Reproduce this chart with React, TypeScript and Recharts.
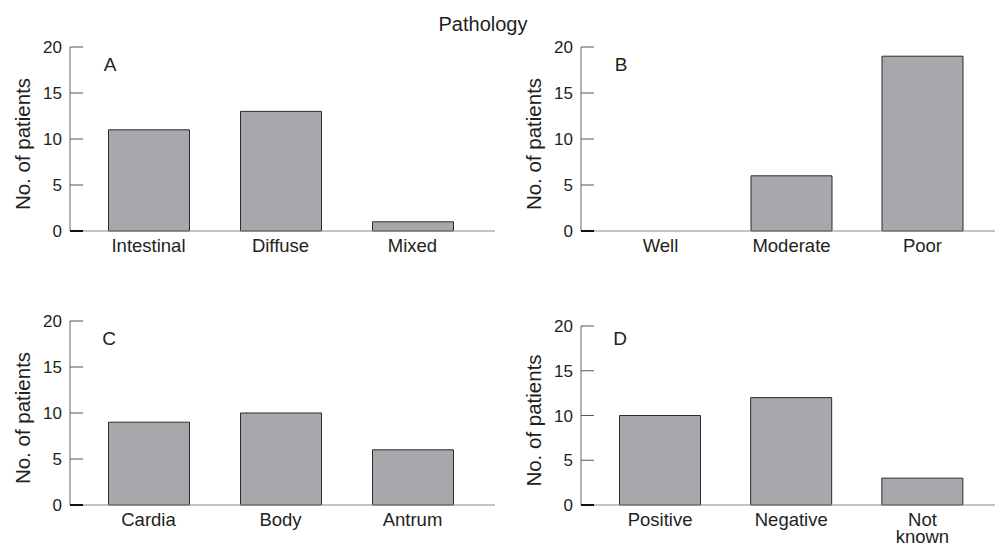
import { BarChart, Bar, XAxis, YAxis } from 'recharts';

const histologyTypes = ['Intestinal', 'Diffuse', 'Mixed'];
const histologyCounts = [11, 13, 1];

const gradeLabels = ['Well', 'Moderate', 'Poor'];
const gradeCounts = [0, 6, 19];

const siteLabels = ['Cardia', 'Body', 'Antrum'];
const siteCounts = [9, 10, 6];

const statusLabels = ['Positive', 'Negative', 'Not\nknown'];
const statusCounts = [10, 12, 3];

const yTicks = [0, 5, 10, 15, 20];

const FONT = '"Liberation Sans", Arial, Helvetica, sans-serif';
const INK = '#231f20';

const YTick = ({ x, y, payload }: any) => {
  const zero = payload.value === 0;
  return (
    <g>
      <line
        x1={x}
        x2={x + 13}
        y1={y}
        y2={y}
        stroke={zero ? '#111' : '#555'}
        strokeWidth={zero ? 2 : 1}
      />
      <text x={x - 8} y={y} dy="0.36em" textAnchor="end" fontSize={17} fontFamily={FONT} fill={INK}>
        {payload.value}
      </text>
    </g>
  );
};

// category labels, "\n" splits into lines
const XTick = ({ x, y, payload }: any) => {
  const lines = String(payload.value).split('\n');
  return (
    <text x={x} y={y + 21} textAnchor="middle" fontSize={18.5} fontFamily={FONT} fill={INK}>
      {lines.map((line, i) => (
        <tspan key={i} x={x} dy={i === 0 ? 0 : 16.5}>
          {line}
        </tspan>
      ))}
    </text>
  );
};

const YLabel = ({ viewBox }: any) => {
  const axisX = viewBox.x + viewBox.width;
  const bx = axisX - 40;
  const cy = viewBox.y + viewBox.height / 2 + 5;
  return (
    <text
      x={bx}
      y={cy}
      transform={`rotate(-90, ${bx}, ${cy})`}
      textAnchor="middle"
      fontSize={20.5}
      fontFamily={FONT}
      fill={INK}
    >
      No. of patients
    </text>
  );
};

interface PanelProps {
  labels: string[];
  counts: number[];
  left: number;
  top: number;
  width: number;
  height: number;
  marginTop: number;
  marginRight: number;
  yWidth: number;
  padLeft: number;
  padRight: number;
}

function Panel({ labels, counts, left, top, width, height, marginTop, marginRight, yWidth, padLeft, padRight }: PanelProps) {
  const data = labels.map((name, i) => ({ name, value: counts[i] }));
  return (
    <div style={{ position: 'absolute', left, top }}>
      <BarChart width={width} height={height} data={data} margin={{ top: marginTop, right: marginRight, bottom: 9, left: 0 }}>
        <XAxis
          dataKey="name"
          type="category"
          height={30}
          padding={{ left: padLeft, right: padRight }}
          axisLine={{ stroke: '#8a8a8a', strokeWidth: 1.2 }}
          tickLine={false}
          tickSize={0}
          tickMargin={0}
          interval={0}
          tick={<XTick />}
        />
        <YAxis
          width={yWidth}
          domain={[0, 20]}
          ticks={yTicks}
          interval={0}
          axisLine={{ stroke: '#666' }}
          tickLine={false}
          tickSize={0}
          tickMargin={0}
          tick={<YTick />}
          label={<YLabel />}
        />
        <Bar dataKey="value" barSize={81} fill="#a7a8ab" stroke="#2b2b2b" strokeWidth={1} isAnimationActive={false} />
      </BarChart>
    </div>
  );
}

export default function App() {
  return (
    <div style={{ position: 'absolute', left: 0, top: 0, width: 996, height: 544, background: '#fff', fontFamily: FONT }}>
      <Panel labels={histologyTypes} counts={histologyCounts} left={0} top={0} width={500} height={270}
        marginTop={47} marginRight={5} yWidth={70} padLeft={12.5} padRight={16.5} />
      <Panel labels={gradeLabels} counts={gradeCounts} left={500} top={0} width={496} height={270}
        marginTop={47} marginRight={1} yWidth={81} padLeft={14} padRight={7} />
      <Panel labels={siteLabels} counts={siteCounts} left={0} top={270} width={500} height={274}
        marginTop={51} marginRight={5} yWidth={70} padLeft={12.5} padRight={16.5} />
      <Panel labels={statusLabels} counts={statusCounts} left={500} top={270} width={496} height={274}
        marginTop={56} marginRight={1} yWidth={81} padLeft={13.5} padRight={7} />
      <svg width={996} height={544} style={{ position: 'absolute', left: 0, top: 0, pointerEvents: 'none' }}>
        <text x={483} y={30.5} textAnchor="middle" fontSize={20} fontFamily={FONT} fill={INK}>Pathology</text>
        <text x={110} y={70.5} textAnchor="middle" fontSize={19} fontFamily={FONT} fill={INK}>A</text>
        <text x={621} y={70.5} textAnchor="middle" fontSize={19} fontFamily={FONT} fill={INK}>B</text>
        <text x={109} y={344.5} textAnchor="middle" fontSize={19} fontFamily={FONT} fill={INK}>C</text>
        <text x={620} y={344.5} textAnchor="middle" fontSize={19} fontFamily={FONT} fill={INK}>D</text>
      </svg>
    </div>
  );
}
